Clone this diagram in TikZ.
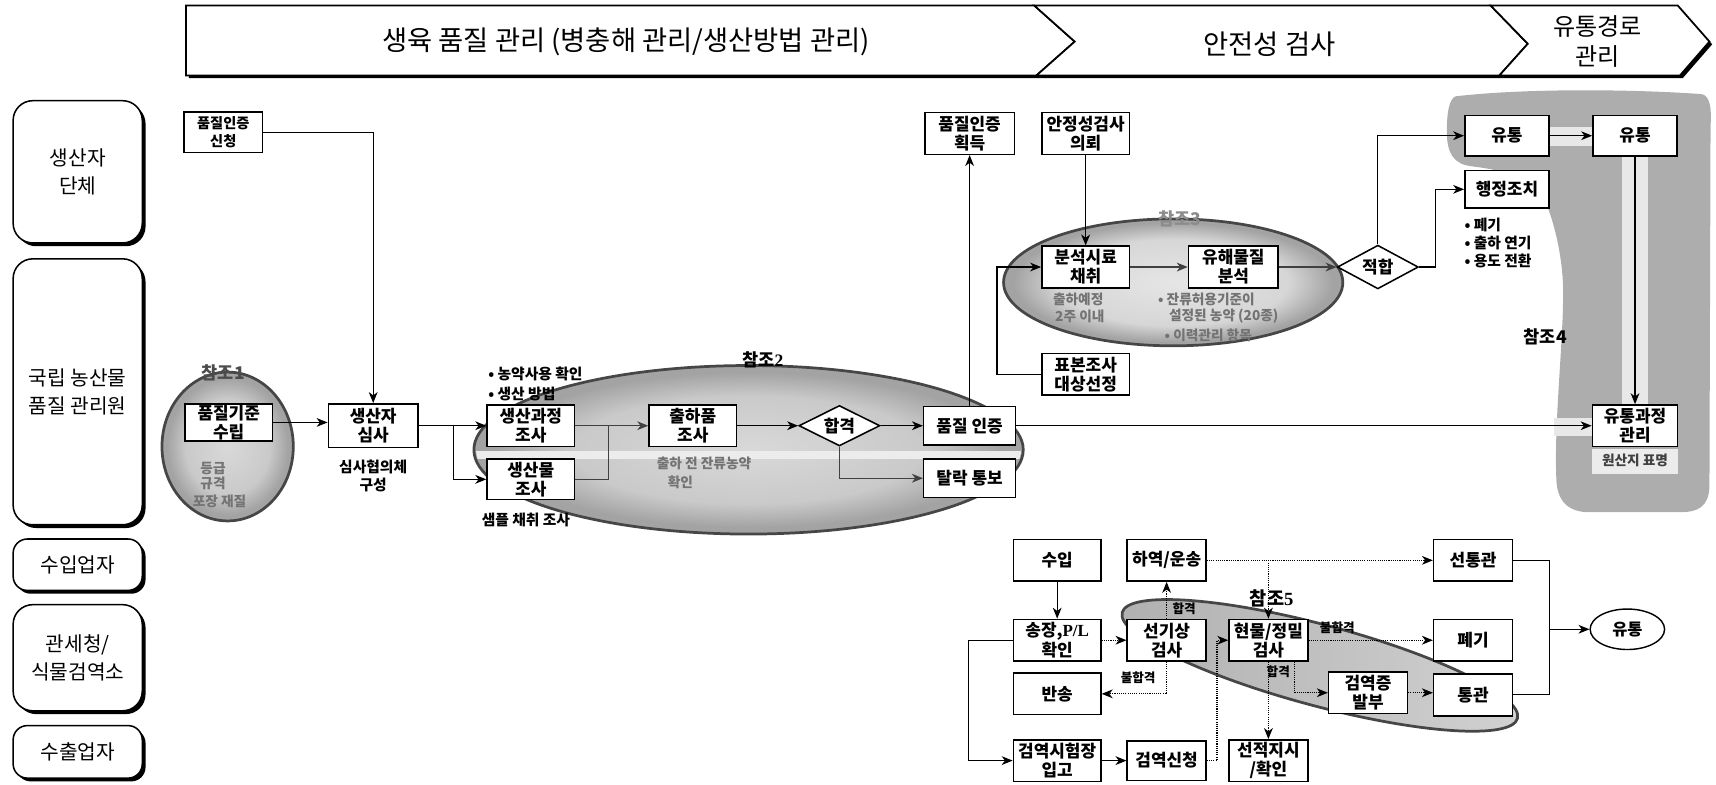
\documentclass[tikz,border=0pt]{standalone}
\usepackage{fontspec}
\setmainfont{Noto Sans CJK KR}
\newfontfamily\serifl{Liberation Serif}
\usetikzlibrary{shapes.geometric,arrows.meta,shadows,calc}
\pgfdeclarelayer{bg}
\pgfsetlayers{bg,main}
\colorlet{rimin}{gray!30}
\colorlet{rimmid}{gray!42}
\colorlet{rimout}{gray!72}
\colorlet{rimlin}{gray!20}
\colorlet{rimlmid}{gray!32}
\pgfdeclareradialshading{rimA}{\pgfpoint{0bp}{0bp}}{color(0bp)=(rimin); color(16bp)=(rimmid); color(23bp)=(rimout); color(25bp)=(rimout); color(50bp)=(rimout)}
\pgfdeclareradialshading{rimB}{\pgfpoint{0bp}{0bp}}{color(0bp)=(rimlin); color(17bp)=(rimlmid); color(23.5bp)=(rimout); color(25bp)=(rimout); color(50bp)=(rimout)}
\begin{document}
\begin{tikzpicture}[x=1pt,y=-1pt,
  ln/.style={line width=1pt},
  arr/.style={ln,-{Stealth[length=10pt,width=8pt,inset=3pt]}},
  darr/.style={arr,densely dotted},
  box/.style={draw,line width=1.4pt,fill=white,align=center,inner sep=1pt,
    minimum width=80pt,minimum height=38pt,font=\bfseries\fontsize{15.5}{17.5}\selectfont},
  dia/.style={draw,diamond,aspect=2,fill=white,line width=1.4pt,inner sep=0pt,
    minimum width=74pt,minimum height=37pt,font=\bfseries\fontsize{15.5}{17.5}\selectfont},
  lane/.style={draw,line width=1.4pt,rounded corners=18pt,fill=white,align=center,
    minimum width=118pt,font=\fontsize{18.5}{25}\selectfont,
    drop shadow={shadow xshift=3pt,shadow yshift=-3pt,fill=black,opacity=1}},
  hdr/.style={draw,line width=1.6pt,fill=white,line join=miter,
    drop shadow={shadow xshift=2.5pt,shadow yshift=-2.5pt,fill=black,opacity=1}},
  htext/.style={align=center,font=\fontsize{25}{28}\selectfont},
  note/.style={align=left,inner sep=0pt,font=\bfseries\fontsize{13.5}{16.5}\selectfont},
  blur/.style={align=left,inner sep=0pt,text=black!55,font=\bfseries\fontsize{12.5}{15}\selectfont},
  lbl/.style={inner sep=0pt,font=\bfseries\fontsize{11.5}{12}\selectfont},
  ref/.style={inner sep=0pt,font=\bfseries\fontsize{16}{18}\selectfont},
  rim/.style={draw=gray!55!black,line width=2.5pt}
]
\useasboundingbox (0,0) rectangle (1568,717);

% ---------- background blobs ----------
\begin{pgfonlayer}{bg}
  % ref 1
  \shade[shading=rimA] (208,408) ellipse [x radius=60pt, y radius=68pt];
  \draw[rim] (208,408) ellipse [x radius=60pt, y radius=68pt];
  % ref 2
  \shade[shading=rimA] (684,411) ellipse [x radius=251pt, y radius=77pt];
  \draw[rim] (684,411) ellipse [x radius=251pt, y radius=77pt];
  \begin{scope}
    \clip (684,411) ellipse [x radius=249pt, y radius=75pt];
    \fill[gray!15] (430,412) rectangle (940,419);
  \end{scope}
  % ref 3
  \shade[shading=rimB] (1072,258) ellipse [x radius=155pt, y radius=58pt];
  \draw[rim] (1072,258) ellipse [x radius=155pt, y radius=58pt];
  % ref 5
  \shade[left color=gray!62,right color=gray!36,rotate around={-15:(1206,608)}]
    (1206,608) ellipse [x radius=187pt, y radius=37pt];
  \draw[rim,rotate around={-15:(1206,608)}]
    (1206,608) ellipse [x radius=187pt, y radius=37pt];
  % ref 4
  \fill[gray!64] (1330,88) .. controls (1400,80) and (1500,82) .. (1555,86)
    .. controls (1563,88) and (1564,100) .. (1563,115)
    -- (1562,445)
    .. controls (1561,463) and (1552,468) .. (1535,468)
    -- (1450,468)
    .. controls (1430,467) and (1422,455) .. (1422,435)
    .. controls (1420,380) and (1430,300) .. (1428,256)
    .. controls (1426,225) and (1418,195) .. (1408,175)
    .. controls (1400,162) and (1370,155) .. (1345,152)
    .. controls (1328,150) and (1322,140) .. (1322,120)
    .. controls (1322,100) and (1325,90) .. (1330,88) -- cycle;
  \fill[gray!18] (1482,142) rectangle (1506,371);
  \fill[gray!18] (1415,116) rectangle (1456,133);
  \fill[gray!18] (1420,382) rectangle (1455,398);
  \fill[gray!15] (1455,410) rectangle (1533,433);
\end{pgfonlayer}

% ---------- header ----------
\draw[hdr] (170,5) -- (945,5) -- (982,38) -- (947,69) -- (170,69) -- cycle;
\draw[hdr] (945,5) -- (1362,5) -- (1396,40) -- (1370,69) -- (947,69) -- (982,38) -- cycle;
\draw[hdr] (1362,5) -- (1533,5) -- (1562,38) -- (1535,69) -- (1370,69) -- (1396,40) -- cycle;
\node[htext] (h1) at (572,38) {생육 품질 관리 (병충해 관리/생산방법 관리)};
\node[htext] (h2) at (1160,40) {안전성 검사};
\node[htext,font=\fontsize{22}{28}\selectfont] (h3) at (1460,38) {유통경로\\관리};

% ---------- lanes ----------
\node[lane,minimum height=130pt] (L1) at (71,157) {생산자\\단체};
\node[lane,minimum height=243pt] (L2) at (71,358) {국립 농산물\\품질 관리원};
\node[lane,rounded corners=13pt,minimum height=47pt] (L3) at (71,516) {수입업자};
\node[lane,minimum height=97pt] (L4) at (71,601) {관세청/\\식물검역소};
\node[lane,rounded corners=13pt,minimum height=48pt] (L5) at (71,687) {수출업자};

% ---------- quality certification ----------
\node[box,minimum width=72pt,minimum height=37pt,font=\bfseries\fontsize{13}{16}\selectfont] (q1) at (204,121) {품질인증\\신청};
\node[box,minimum height=34pt] (std) at (209,386) {품질기준\\수립};
\node[box,minimum width=82pt,minimum height=40pt] (rev) at (341,389) {생산자\\심사};
\node[note,align=center] (revn) at (341,435) {심사협의체\\구성};
\node[box] (proc) at (485,389) {생산과정\\조사};
\node[box,minimum height=37pt] (prod) at (485,438) {생산물\\조사};
\node[note,anchor=west] (n1) at (446,342) {• 농약사용 확인};
\node[note,anchor=west] (n2) at (446,360) {• 생산 방법};
\node[note,anchor=west] (n3) at (440,475) {샘플 채취 조사};
\node[box] (ship) at (633,389) {출하품\\조사};
\node[dia] (pass) at (767,389) {합격};
\node[box,minimum width=84pt,minimum height=35pt] (cert) at (886,389) {품질 인증};
\node[box,minimum width=84pt,minimum height=35pt] (fail) at (886,437) {탈락 통보};
\node[ref] (r2) at (697,329) {참조{\serifl 2}};
\node[ref,text=black!70] (r1) at (204,341) {참조1};
\node[blur,anchor=west] (b1) at (183,428) {등급};
\node[blur,anchor=west] (b2) at (183,442) {규격};
\node[blur,anchor=west] (b3) at (176,458) {포장 재질};
\node[blur,anchor=west] (b4) at (600,423) {출하 전 잔류농약};
\node[blur,anchor=west] (b5) at (610,441) {확인};

% ---------- safety inspection ----------
\node[box,minimum width=82pt] (certget) at (886,122) {품질인증\\획득};
\node[box] (safereq) at (992,122) {안정성검사\\의뢰};
\node[box] (sample) at (992,244) {분석시료\\채취};
\node[box,minimum width=82pt] (harm) at (1127,244) {유해물질\\분석};
\node[dia,minimum height=40pt] (fit) at (1259,244) {적합};
\node[box] (select) at (992,342) {표본조사\\대상선정};
\node[ref,text=black!45] (r3) at (1078,200) {참조3};
\node[blur,anchor=west] (b6) at (962,274) {출하예정};
\node[blur,anchor=west] (b7) at (964,289) {2주 이내};
\node[blur,anchor=west] (b8) at (1058,274) {• 잔류허용기준이};
\node[blur,anchor=west] (b9) at (1068,289) {설정된 농약 (20종)};
\node[blur,anchor=west] (b10) at (1064,306) {• 이력관리 항목};

% ---------- distribution ----------
\node[box,minimum width=77pt,minimum height=37pt] (dist1) at (1377,124) {유통};
\node[box,minimum width=77pt,minimum height=37pt] (dist2) at (1494,124) {유통};
\node[box,minimum width=77pt,minimum height=34pt] (admin) at (1377,173) {행정조치};
\node[note,anchor=north west] (n4) at (1338,199) {• 폐기\\• 출하 연기\\• 용도 전환};
\node[box,minimum width=78pt] (distmgmt) at (1494,389) {유통과정\\관리};
\node[note,text=black!75,font=\bfseries\fontsize{12.5}{14}\selectfont] (origin) at (1494,421) {원산지 표명};
\node[ref] (r4) at (1412,308) {참조4};

% ---------- import ----------
\node[box] (imp) at (966,512) {수입};
\node[box,minimum width=72pt] (unload) at (1066,512) {하역/운송};
\node[box,minimum width=72pt] (precl) at (1346,512) {선통관};
\node[box] (invoice) at (966,585) {송장,{\serifl P/L}\\확인};
\node[box,minimum width=72pt] (preinsp) at (1066,585) {선기상\\검사};
\node[box,minimum width=72pt] (phys) at (1159,585) {현물/정밀\\검사};
\node[box,minimum width=72pt] (discard) at (1346,585) {폐기};
\node[box] (ret) at (966,634) {반송};
\node[box,minimum width=72pt] (qcert) at (1250,633) {검역증\\발부};
\node[box,minimum width=72pt] (clear) at (1346,635) {통관};
\node[box] (lab) at (966,695) {검역시험장\\입고};
\node[box,minimum width=72pt,minimum height=36pt] (qreq) at (1066,695) {검역신청};
\node[box,minimum width=72pt] (shipord) at (1159,695) {선적지시\\/확인};
\node[draw,ellipse,line width=1.3pt,fill=white,minimum width=68pt,minimum height=37pt,inner sep=1pt,
  font=\bfseries\fontsize{15}{16}\selectfont] (flow) at (1487,575) {유통};
\node[ref,font=\bfseries\fontsize{17}{18}\selectfont] (r5) at (1162,547) {참조{\serifl 5}};
\node[lbl] (l1) at (1082,556) {합격};
\node[lbl] (l2) at (1040,619) {불합격};
\node[lbl] (l3) at (1222,574) {불합격};
\node[lbl] (l4) at (1168,614) {합격};

% ---------- connectors ----------
\draw[arr] (q1.east) -| (rev.north);
\draw[arr] (std.east) -- (std.east -| rev.west);
\coordinate (sp1) at (414,389);
\draw[ln] (rev.east) -- (sp1);
\draw[arr] (sp1) |- (proc.west);
\draw[arr] (sp1) |- (prod.west);
\draw[arr,black!75] (proc.east) -- (ship.west);
\coordinate (jn) at (556,389);
\draw[ln,black!75] (prod.east) -| (jn);
\draw[arr] (ship.east) -- (pass.west);
\draw[arr] (pass.east) -- (cert.west);
\draw[arr,black!75] (pass.south) |- (fail.west);
\draw[arr] (cert.north) -- (certget.south);
\draw[arr] (cert.east) -- (distmgmt.west);
\draw[arr] (safereq.south) -- (sample.north);
\draw[arr,black!75] (sample.east) -- (harm.west);
\draw[arr,black!75] (harm.east) -- (fit.west);
\coordinate (sx) at (911,0);
\draw[arr] (select.west) -- (select.west -| sx) |- (sample.west);
\draw[arr] (fit.north) |- (dist1.west);
\coordinate (fx) at (1312,0);
\draw[arr] (fit.east) -- (fit.east -| fx) |- (admin.west);
\draw[arr] (dist1.east) -- (dist2.west);
\draw[arr] (dist2.south) -- (distmgmt.north);

\draw[arr] (imp.south) -- (invoice.north);
\draw[darr] (invoice.east) -- (preinsp.west);
\coordinate (ix) at (885,0);
\draw[arr] (invoice.west) -- (invoice.west -| ix) |- (lab.west);
\draw[arr] (lab.east) -- (qreq.west);
\coordinate (qx) at (1112,0);
\draw[darr] (qreq.east) -- (qreq.east -| qx) |- (phys.west);
\draw[darr] (preinsp.north) -- (unload.south);
\draw[darr] (preinsp.south) |- (ret.east);
\draw[darr] (unload.east) -- (precl.west);
\draw[darr] (phys.north |- unload.east) -- (phys.north);
\draw[darr] (phys.east) -- (discard.west);
\draw[darr] (phys.south) -- (shipord.north);
\draw[darr] ([xshift=24pt]phys.south) |- (qcert.west);
\draw[darr] (qcert.east) -- (qcert.east -| clear.west);
\coordinate (cx) at (1416,575);
\draw[ln] (precl.east) -| (cx) |- (clear.east);
\draw[arr] (cx) -- (flow.west);
\end{tikzpicture}
\end{document}
